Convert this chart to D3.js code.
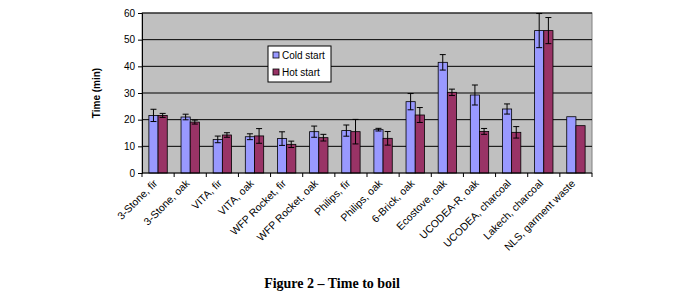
<!DOCTYPE html>
<html>
<head>
<meta charset="utf-8">
<script src="https://cdn.jsdelivr.net/npm/d3@7"></script>
<style>
  body { margin: 0; background: #fff; }
  text { font-family: Arial, "Liberation Sans", sans-serif; }
  text.caption { font-family: "Liberation Serif", "DejaVu Serif", serif; }
</style>
</head>
<body>
<svg id="chart"></svg>
<script>
const categories = ["3-Stone, fir", "3-Stone, oak", "VITA, fir", "VITA, oak", "WFP Rocket, fir", "WFP Rocket, oak",
    "Philips, fir", "Philips, oak", "6-Brick, oak", "Ecostove, oak", "UCODEA-R, oak", "UCODEA, charcoal",
    "Lakech, charcoal", "NLS, garment waste"];
const coldStart = [21.6, 21, 12.6, 13.6, 12.9, 15.5, 15.9, 16.25, 26.75, 41.5, 29.25, 24, 53.4, 21.1];
const hotStart = [21.6, 19.1, 14.25, 13.9, 10.75, 13.25, 15.5, 13, 21.75, 30.25, 15.6, 15.25, 53.4, 17.75];
const coldErr = [2.3, 1.05, 1.25, 1.1, 2.55, 2.1, 2.1, 0.5, 3.05, 2.9, 3.75, 1.9, 6.4, 0];
const hotErr = [0.75, 0.75, 0.85, 2.75, 1.2, 1.25, 4.6, 2.55, 2.8, 1.2, 1.1, 2.15, 4.9, 0];
const yTicks = [0, 10, 20, 30, 40, 50, 60];
const seriesNames = ["Cold start", "Hot start"];
const colors = ["#9999FF", "#993366"];

let svg = d3.select("#chart").attr("width", 697).attr("height", 295);
let margin = {top: 13, left: 142, right: 105, bottom: 122};
let width = 697 - margin.left - margin.right;
let height = 295 - margin.top - margin.bottom;
let g = svg.append("g").attr("transform", "translate(" + margin.left + "," + margin.top + ")");

let x = d3.scaleBand().domain(categories).range([0, width]);
let bw = x.bandwidth() / 3.5;
let y = d3.scaleLinear().domain([0, 60]).range([height, 0]);

// plot area
g.append("rect").attr("width", width).attr("height", height)
    .attr("fill", "#C0C0C0").attr("stroke", "#808080").attr("stroke-width", 1);

g.selectAll(".grid").data(yTicks.slice(1)).enter().append("line")
    .attr("x1", 0).attr("x2", width)
    .attr("y1", d => y(d)).attr("y2", d => y(d))
    .attr("stroke", "#000").attr("stroke-width", 1);

let series = [
    {values: coldStart, err: coldErr, color: colors[0], off: 0.75},
    {values: hotStart, err: hotErr, color: colors[1], off: 1.75}
];

series.forEach(s => {
    let grp = g.append("g");
    grp.selectAll("rect").data(categories).enter().append("rect")
        .attr("x", (d, i) => x(d) + s.off * bw)
        .attr("y", (d, i) => y(s.values[i]))
        .attr("width", bw)
        .attr("height", (d, i) => height - y(s.values[i]))
        .attr("fill", s.color).attr("stroke", "#000").attr("stroke-width", 0.8);
    let eb = grp.selectAll(".eb").data(categories.filter((d, i) => s.err[i] > 0)).enter().append("g");
    eb.each(function(d) {
        let i = categories.indexOf(d);
        let cx = x(d) + (s.off + 0.5) * bw;
        let hi = y(s.values[i] + s.err[i]), lo = y(s.values[i] - s.err[i]);
        let e = d3.select(this);
        e.append("line").attr("x1", cx).attr("x2", cx).attr("y1", hi).attr("y2", lo);
        e.append("line").attr("x1", cx - 3).attr("x2", cx + 3).attr("y1", hi).attr("y2", hi);
        e.append("line").attr("x1", cx - 3).attr("x2", cx + 3).attr("y1", lo).attr("y2", lo);
        e.selectAll("line").attr("stroke", "#000").attr("stroke-width", 1);
    });
});

// axes
let yAxis = g.append("g").call(d3.axisLeft(y).tickValues(yTicks).tickSize(4).tickPadding(3));
yAxis.select(".domain").attr("stroke", "#000");
yAxis.selectAll("text").attr("font-size", 10).attr("fill", "#000");

let xAxisG = g.append("g").attr("transform", "translate(0," + height + ")");
xAxisG.append("line").attr("x1", 0).attr("x2", width).attr("stroke", "#000");
xAxisG.selectAll(".tk").data(categories.concat([null])).enter().append("line")
    .attr("x1", (d, i) => i * x.step()).attr("x2", (d, i) => i * x.step())
    .attr("y1", 0).attr("y2", 4).attr("stroke", "#000");
xAxisG.selectAll(".lbl").data(categories).enter().append("text")
    .attr("transform", d => "translate(" + (x(d) + x.bandwidth() / 2) + ",11) rotate(-45)")
    .attr("text-anchor", "end")
    .attr("font-size", 10.5)
    .attr("fill", "#000")
    .text(d => d);

svg.append("text")
    .attr("transform", "translate(100," + (margin.top + y(30)) + ") rotate(-90)")
    .attr("text-anchor", "middle")
    .attr("font-size", 10).attr("font-weight", "bold")
    .text("Time (min)");

// legend
let lg = svg.append("g").attr("transform", "translate(268,46)");
lg.append("rect").attr("width", 63).attr("height", 36).attr("fill", "#fff").attr("stroke", "#000");
seriesNames.forEach((n, i) => {
    lg.append("rect").attr("x", 5).attr("y", 6 + i * 17).attr("width", 6).attr("height", 6)
        .attr("fill", colors[i]).attr("stroke", "#000").attr("stroke-width", 0.8);
    lg.append("text").attr("x", 14).attr("y", 13 + i * 17).attr("font-size", 10).text(n);
});

svg.append("text")
    .attr("class", "caption")
    .attr("x", 332).attr("y", 288)
    .attr("text-anchor", "middle")
    .attr("font-weight", "bold").attr("font-size", 14)
    .text("Figure 2 – Time to boil");
</script>
</body>
</html>
